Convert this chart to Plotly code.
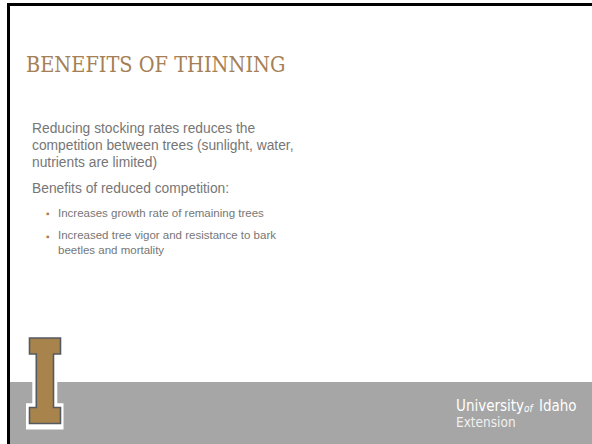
import plotly.graph_objects as go

W, H = 592, 444

title = "BENEFITS OF THINNING"
body_lines = [
    "Reducing stocking rates reduces the",
    "competition between trees (sunlight, water,",
    "nutrients are limited)",
    "Benefits of reduced competition:",
]
body_baselines = [133.5, 150.5, 167.5, 193.5]
bullet_items = [
    "Increases growth rate of remaining trees",
    "Increased tree vigor and resistance to bark<br>beetles and mortality",
]
bullet_baselines = [217.3, 239.5]

GOLD = "#a67f55"
TEXT = "#767676"
FOOT = "#a6a6a6"

fig = go.Figure()

shapes = []
shapes.append(dict(type="rect", x0=7, x1=W, y0=3, y1=6, fillcolor="black", line_width=0, layer="above"))
shapes.append(dict(type="rect", x0=7, x1=10, y0=3, y1=H, fillcolor="black", line_width=0, layer="above"))
shapes.append(dict(type="rect", x0=10, x1=W, y0=382, y1=H, fillcolor=FOOT, line_width=0))
shapes.append(dict(type="path",
                   path="M32.3,382 L57.3,382 L57.3,403.3 L63.5,403.3 L63.5,429.5 L26,429.5 L26,403.3 L32.3,403.3 Z",
                   fillcolor="white", line_width=0))
ipath = ("M29.5,338 L60.5,338 L60.5,354 L53.5,354 L53.5,407.5 L60.5,407.5 L60.5,423.5 "
         "L29.5,423.5 L29.5,407.5 L36.3,407.5 L36.3,354 L29.5,354 Z")
shapes.append(dict(type="path", path=ipath, fillcolor="#a8834b",
                   line=dict(color="#555a61", width=1.6)))

anns = []
anns.append(dict(x=25, y=72 - 0.36 * 21.5, text=title, xanchor="left", yanchor="middle",
                 showarrow=False, borderpad=0,
                 font=dict(family="DejaVu Serif Condensed", size=21.5, color=GOLD)))

def add_line(x, base, txt, size, color=TEXT, family="Liberation Sans"):
    anns.append(dict(x=x, y=base - 0.34 * size, text=txt, xanchor="left", yanchor="middle",
                     showarrow=False, borderpad=0, align="left",
                     font=dict(family=family, size=size, color=color)))

def add_block(x, base, txt, size, color=TEXT, family="Liberation Sans"):
    # anchor at the top of the block: first baseline sits ~0.95*size under the top
    anns.append(dict(x=x, y=base - 0.98 * size, text=txt, xanchor="left", yanchor="top",
                     showarrow=False, borderpad=0, align="left",
                     font=dict(family=family, size=size, color=color)))

for t, b in zip(body_lines, body_baselines):
    add_line(31, b, t, 13.8)
for t, b in zip(bullet_items, bullet_baselines):
    add_block(56.5, b, t, 11.5)
    add_line(45, b, "\u25aa", 10, color=GOLD)

LOGO = "DejaVu Sans Condensed"
anns.append(dict(x=455, y=406, text="University", xanchor="left", yanchor="middle", showarrow=False,
                 borderpad=0, font=dict(family=LOGO, size=15, color="white")))
anns.append(dict(x=522.5, y=408, text="<i>of</i>", xanchor="left", yanchor="middle", showarrow=False,
                 borderpad=0, font=dict(family=LOGO, size=10, color="white")))
anns.append(dict(x=537.5, y=406, text="Idaho", xanchor="left", yanchor="middle", showarrow=False,
                 borderpad=0, font=dict(family=LOGO, size=15, color="white")))
anns.append(dict(x=455, y=422, text="Extension", xanchor="left", yanchor="middle", showarrow=False,
                 borderpad=0, font=dict(family=LOGO, size=13.5, color="#f0f0f0")))

fig.update_layout(
    width=W, height=H, margin=dict(l=0, r=0, t=0, b=0),
    paper_bgcolor="white", plot_bgcolor="white",
    xaxis=dict(range=[0, W], visible=False, fixedrange=True),
    yaxis=dict(range=[H, 0], visible=False, fixedrange=True),
    shapes=shapes, annotations=anns, showlegend=False,
)
fig.write_html("out.html", config={"displayModeBar": False},
               post_script="document.body.style.margin='0px';document.body.style.overflow='hidden';")
